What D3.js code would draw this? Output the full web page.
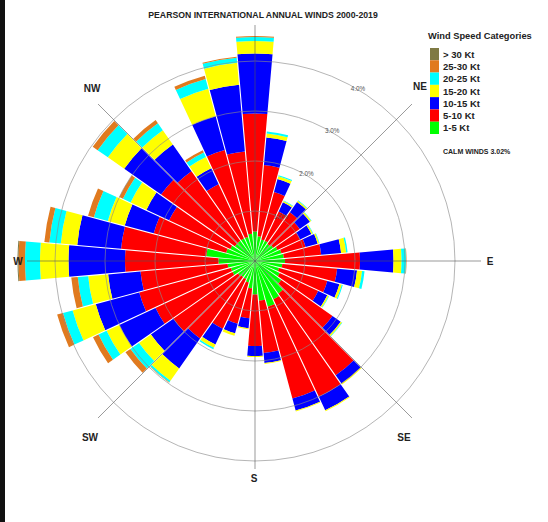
<!DOCTYPE html>
<html>
<head>
<meta charset="utf-8">
<script src="https://cdn.jsdelivr.net/npm/d3@7"></script>
<style>
  body { margin: 0; background: #fff; }
  svg { display: block; font-family: "Liberation Sans", Arial, sans-serif; }
</style>
</head>
<body>
<svg id="rose" width="548" height="522"></svg>
<script>
// direction of each petal, degrees from north
const directions = d3.range(10, 370, 10)
const categories = ["1-5 Kt", "5-10 Kt", "10-15 Kt", "15-20 Kt", "20-25 Kt", "25-30 Kt", "> 30 Kt"]
const catColors = ["#00ff00", "#ff0000", "#0000ff", "#ffff00", "#00ffff", "#e07a1f", "#7f7a44"]
// frequency (%) per direction, per speed class
const kt1_5   = [.50,.45,.45,.42,.45,.50,.55,.58,.60,.55,.50,.55,.65,.80,.85,.95,.80,.67,.55,.45,.40,.40,.42,.50,.50,.55,.73,.98,.60,.55,.50,.50,.50,.50,.55,.59]
const kt5_10  = [1.43,.98,.65,.78,.65,.50,.50,.75,1.50,1.10,1.00,.85,1.25,2.00,2.15,1.90,1.05,1.03,.60,.85,1.10,1.50,1.58,1.70,1.90,1.75,1.87,1.71,1.50,1.35,1.80,1.70,1.20,1.80,1.65,2.36]
const kt10_15 = [.55,.27,.20,.25,.25,.25,.25,.40,.67,.40,.25,.20,.20,.20,.30,.25,.20,.20,.20,.20,.35,.73,.55,.80,.90,.65,1.13,.88,.60,.50,.90,.65,.35,.70,1.34,1.20]
const kt15_20 = [.08,.06,.03,.03,.03,.03,.03,.10,.16,.10,.05,.03,.03,.02,.02,.02,.02,.02,.02,.05,.07,.30,.29,.28,.48,.40,.57,.33,.35,.35,.40,.35,.25,.57,.44,.25]
const kt20_25 = [.04,.02,.01,.01,.01,.01,.01,.03,.09,.05,.02,.01,.01,0,0,0,0,0,0,0,.03,.04,.21,.18,.20,.21,.30,.23,.29,.17,.25,.17,.10,.20,.10,.08]
const kt25_30 = [0,0,0,0,0,0,0,0,.01,0,0,0,0,0,0,0,0,0,0,0,0,.01,.12,.12,.12,.13,.13,.10,.12,.08,.12,.08,.05,.07,.02,.02]
const kt30    = [0,0,0,0,0,0,0,0,0,0,0,0,0,0,0,0,0,0,0,0,0,0,0,0,0,0,.02,0,0,0,0,0,0,0,0,0]
const ringTicks = [1, 2, 3, 4]
const compassNames = ["N", "NE", "E", "SE", "S", "SW", "W", "NW"]
const calmWinds = "3.02%"

const series = [kt1_5, kt5_10, kt10_15, kt15_20, kt20_25, kt25_30, kt30]

const svg = d3.select("#rose")
const cx = 255, cy = 261
const r = d3.scaleLinear().domain([0, 4]).range([0, 200])
const rad = d => d * Math.PI / 180

// stack the classes per direction
let rows = directions.map((dir, i) => {
  let o = { dir }
  categories.forEach((c, k) => o[c] = series[k][i])
  return o
})
let stacked = d3.stack().keys(categories)(rows)

let g = svg.append("g").attr("transform", `translate(${cx},${cy})`)

let arc = d3.arc()
  .innerRadius(d => r(d[0]))
  .outerRadius(d => r(d[1]))
  .startAngle(d => rad(d.data.dir - 5))
  .endAngle(d => rad(d.data.dir + 5))
  .padAngle(0.012).padRadius(90)

stacked.forEach((layer, k) => {
  g.append("g").selectAll("path")
    .data(layer.filter(d => d[1] - d[0] > 0))
    .enter().append("path")
    .attr("d", arc)
    .attr("fill", catColors[k])
})

// rings on top of the petals
g.selectAll("circle.ring").data(ringTicks).enter().append("circle")
  .attr("class", "ring")
  .attr("r", d => r(d))
  .attr("fill", "none")
  .attr("stroke", "#8a8a8a")
  .attr("stroke-opacity", 0.8)
  .attr("stroke-width", 0.8)

// axes: [bearing, line length, label x, label y] (label in page px)
const axes = [[0, 236], [45, 222, 420, 90], [90, 226, 490, 265], [135, 222, 404, 441],
              [180, 208, 254, 482], [225, 222, 90, 441], [270, 228, 18, 265], [315, 222, 92, 92]]
g.selectAll("line.ax").data(axes).enter().append("line")
  .attr("x1", 0).attr("y1", 0)
  .attr("x2", d => d[1] * Math.sin(rad(d[0])))
  .attr("y2", d => -d[1] * Math.cos(rad(d[0])))
  .attr("stroke", "#555").attr("stroke-width", 0.6)

// ring labels
g.selectAll("text.rl").data(ringTicks).enter().append("text")
  .attr("x", d => r(d) * Math.sin(rad(31)))
  .attr("y", d => -r(d) * Math.cos(rad(31)) + 1)
  .attr("text-anchor", "middle")
  .attr("font-size", 6.3).attr("fill", "#555")
  .text(d => d.toFixed(1) + "%")

// compass labels
svg.selectAll("text.cp").data(axes.filter(d => d.length > 2)).enter().append("text")
  .attr("x", d => d[2]).attr("y", d => d[3])
  .attr("text-anchor", "middle")
  .attr("font-size", 10).attr("font-weight", "bold").attr("fill", "#222")
  .text(d => compassNames[d[0] / 45])

// title
svg.append("text")
  .attr("x", 263).attr("y", 18)
  .attr("text-anchor", "middle")
  .attr("font-size", 8.7).attr("font-weight", "bold").attr("fill", "#222")
  .text("PEARSON INTERNATIONAL ANNUAL WINDS 2000-2019")

// legend
let lg = svg.append("g").attr("transform", "translate(428,0)")
lg.append("text").attr("x", 0).attr("y", 39)
  .attr("font-size", 9.3).attr("font-weight", "bold").attr("fill", "#222")
  .text("Wind Speed Categories")
let legendOrder = categories.slice().reverse()
let ly = d3.scaleBand().domain(legendOrder).range([48, 134])
lg.selectAll("rect").data(legendOrder).enter().append("rect")
  .attr("x", 2).attr("y", d => ly(d)).attr("width", 9).attr("height", ly.bandwidth())
  .attr("fill", d => catColors[categories.indexOf(d)])
lg.selectAll("text.li").data(legendOrder).enter().append("text")
  .attr("x", 15).attr("y", d => ly(d) + ly.bandwidth() / 2 + 3.5)
  .attr("font-size", 9.5).attr("font-weight", "bold").attr("fill", "#222")
  .text(d => d)
lg.append("text").attr("x", 15).attr("y", 154)
  .attr("font-size", 7).attr("font-weight", "bold").attr("fill", "#222")
  .text("CALM WINDS " + calmWinds)

// dark strip at left edge of the scan
svg.append("rect").attr("x", 0).attr("y", 0).attr("width", 5).attr("height", 522).attr("fill", "#111")
</script>
</body>
</html>
